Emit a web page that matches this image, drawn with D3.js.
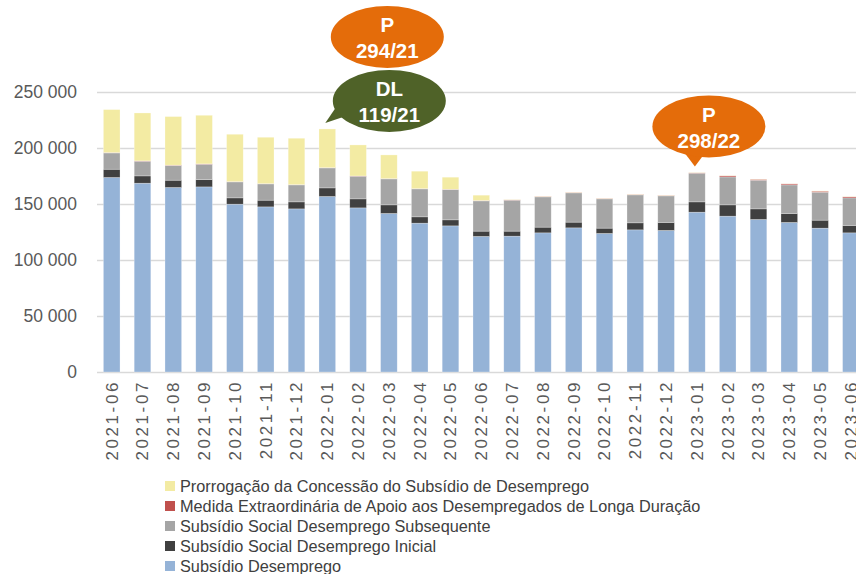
<!DOCTYPE html>
<html>
<head>
<meta charset="utf-8">
<script src="https://cdn.jsdelivr.net/npm/d3@7"></script>
<style>
  body { margin: 0; background: #fff; overflow: hidden; }
  svg { display: block; font-family: "Liberation Sans", Arial, sans-serif; }
</style>
</head>
<body>
<script>
// months on the x axis
const months = ["2021-06", "2021-07", "2021-08", "2021-09", "2021-10", "2021-11", "2021-12",
  "2022-01", "2022-02", "2022-03", "2022-04", "2022-05", "2022-06", "2022-07", "2022-08",
  "2022-09", "2022-10", "2022-11", "2022-12", "2023-01", "2023-02", "2023-03", "2023-04",
  "2023-05", "2023-06"];

// series values (beneficiários), bottom to top of each stack
const subsidioDesemprego = [173850, 168760, 164920, 165460, 150010, 147600, 145810, 156880, 146700,
  141700, 133040, 130630, 121170, 121430, 124380, 128850, 123840, 127060, 126520, 142860, 139290,
  136340, 133670, 128580, 124380];
const socialInicial = [7400, 6520, 6520, 6600, 5630, 5980, 6250, 7680, 8040, 7680, 5630, 5360,
  4730, 4470, 5090, 5090, 4740, 6250, 7150, 9200, 10090, 9470, 8030, 7140, 6610];
const socialSubsequente = [14550, 13120, 13120, 13660, 14280, 14550, 15180, 17860, 20270, 23220,
  25000, 27140, 27050, 27680, 27060, 26160, 26160, 25000, 23750, 25630, 25000, 25630, 25540,
  25000, 24640];
const medidaLongaDuracao = [300, 300, 300, 300, 200, 200, 200, 200, 200, 200, 200, 200, 300, 300,
  400, 400, 400, 400, 400, 400, 1000, 800, 900, 900, 1000];
const prorrogacao = [38450, 42830, 43450, 43460, 42390, 41500, 41500, 34620, 27750, 21230, 15600,
  10790, 4790, 300, 200, 200, 200, 200, 200, 300, 250, 200, 100, 250, 250];

const seriesNames = ["Subsídio Desemprego", "Subsídio Social Desemprego Inicial",
  "Subsídio Social Desemprego Subsequente",
  "Medida Extraordinária de Apoio aos Desempregados de Longa Duração",
  "Prorrogação da Concessão do Subsídio de Desemprego"];
const seriesColors = ["#95B3D7", "#404040", "#A5A5A5", "#C0504D", "#F3EBA3"];

const yTicks = [0, 50000, 100000, 150000, 200000, 250000];

// callouts (legislation), tied to a month
const callouts = [
  { month: "2022-01", lines: ["P", "294/21"], color: "#E46C0A", dx: 62, dy: -86, tail: false },
  { month: "2022-01", lines: ["DL", "119/21"], color: "#4F6228", dx: 64, dy: -22, tail: true },
  { month: "2023-01", lines: ["P", "298/22"], color: "#E46C0A", dx: 14, dy: -40, tail: true }
];

const width = 856, height = 574;
const margin = { left: 96.3, top: 92.3, bottom: 202 };

const table = months.map((m, i) => ({
  month: m,
  s0: subsidioDesemprego[i], s1: socialInicial[i], s2: socialSubsequente[i],
  s3: medidaLongaDuracao[i], s4: prorrogacao[i]
}));
const keys = ["s0", "s1", "s2", "s3", "s4"];
const stacked = d3.stack().keys(keys)(table);

const svg = d3.select("body").append("svg")
  .attr("width", width)
  .attr("height", height);

const x = d3.scaleBand()
  .domain(months)
  .range([margin.left, margin.left + 25 * 30.8])
  .paddingInner(0.46)
  .paddingOuter(0.23);

const y = d3.scaleLinear()
  .domain([0, 250000])
  .range([372, margin.top]);

// gridlines
svg.append("g")
  .selectAll("line")
  .data(yTicks)
  .join("line")
  .attr("x1", 97)
  .attr("x2", width)
  .attr("y1", d => Math.round(y(d)) + 0.5)
  .attr("y2", d => Math.round(y(d)) + 0.5)
  .style("stroke", "#D9D9D9")
  .style("stroke-width", 1.3);

// y axis labels
const fmt = d => d3.format(",")(d).replace(/,/g, " ");
svg.append("g")
  .selectAll("text")
  .data(yTicks)
  .join("text")
  .attr("x", 77)
  .attr("y", d => y(d))
  .attr("dy", "0.35em")
  .attr("text-anchor", "end")
  .style("font-size", "17.5px")
  .style("fill", "#595959")
  .text(fmt);

// stacked bars
svg.append("g")
  .selectAll("g")
  .data(stacked)
  .join("g")
  .style("fill", (d, i) => seriesColors[i])
  .selectAll("rect")
  .data(d => d)
  .join("rect")
  .attr("x", d => x(d.data.month))
  .attr("width", x.bandwidth())
  .attr("y", d => y(d[1]))
  .attr("height", d => Math.max(0, y(d[0]) - y(d[1])))
  .style("stroke", "#ffffff")
  .style("stroke-opacity", 0.45)
  .style("stroke-width", 0.6);

// x axis labels (rotated)
svg.append("g")
  .selectAll("text")
  .data(months)
  .join("text")
  .attr("transform", d => `translate(${x(d) + x.bandwidth() / 2},380) rotate(-90)`)
  .attr("dy", "0.35em")
  .attr("text-anchor", "end")
  .style("font-size", "17px")
  .style("letter-spacing", "2.6px")
  .style("fill", "#595959")
  .text(d => d);

// callouts
const totals = table.map(d => d.s0 + d.s1 + d.s2 + d.s3 + d.s4);
callouts.forEach(c => {
  const i = months.indexOf(c.month);
  const tipX = x(c.month) + x.bandwidth() / 2 - 2;
  const tipY = y(totals[i]) - 6;
  const cx = tipX + c.dx, cy = tipY + c.dy;
  const g = svg.append("g");
  if (c.tail) {
    const ang = Math.atan2(tipY - cy, tipX - cx);
    const a1 = ang - 0.28, a2 = ang + 0.28;
    g.append("polygon")
      .style("fill", c.color)
      .attr("points", [
        [cx + 50 * Math.cos(a1), cy + 25 * Math.sin(a1)],
        [tipX, tipY],
        [cx + 50 * Math.cos(a2), cy + 25 * Math.sin(a2)]
      ].map(p => p.join(",")).join(" "));
  }
  g.append("ellipse")
    .style("fill", c.color)
    .attr("cx", cx)
    .attr("cy", cy)
    .attr("rx", 56.5)
    .attr("ry", 31);
  g.selectAll("text")
    .data(c.lines)
    .join("text")
    .attr("x", cx)
    .attr("y", (d, k) => cy - 12 + k * 26)
    .attr("dy", "0.35em")
    .attr("text-anchor", "middle")
    .style("font-size", "20.5px")
    .style("font-weight", "bold")
    .style("fill", "#ffffff")
    .text(d => d);
});

// legend (reverse order, top series first)
const legend = svg.append("g")
  .selectAll("g")
  .data(d3.range(4, -1, -1))
  .join("g")
  .attr("transform", (d, k) => `translate(165,${486 + k * 20})`);

legend.append("rect")
  .attr("x", 0)
  .attr("y", -5)
  .attr("width", 10)
  .attr("height", 10)
  .style("fill", d => seriesColors[d]);

legend.append("text")
  .attr("x", 15)
  .attr("y", 0)
  .attr("dy", "0.35em")
  .style("font-size", "16.3px")
  .style("fill", "#404040")
  .text(d => seriesNames[d]);
</script>
</body>
</html>
